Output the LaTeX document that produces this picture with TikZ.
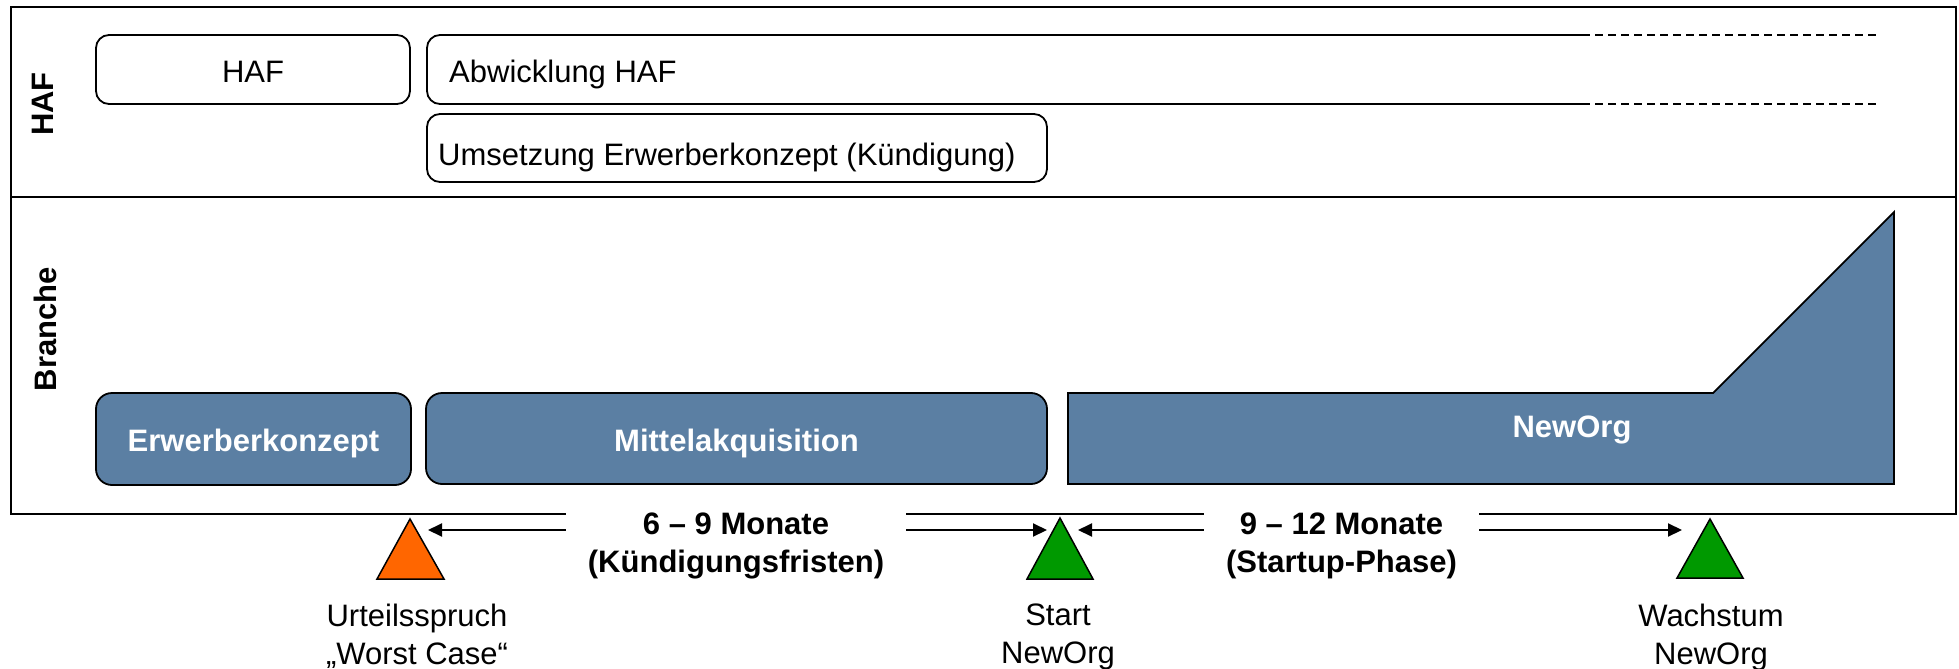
\documentclass[tikz,border=0pt]{standalone}
\usepackage{fontspec}
\setmainfont{Liberation Sans}
\usetikzlibrary{arrows.meta}
\definecolor{bluebox}{RGB}{91,127,163}
\definecolor{orangetri}{RGB}{255,102,0}
\definecolor{greentri}{RGB}{0,153,0}
\begin{document}
\begin{tikzpicture}[x=1pt,y=-1pt,
  txt/.style={font=\fontsize{31}{38}\selectfont, inner sep=0pt},
  btxt/.style={font=\fontsize{31}{38}\selectfont\bfseries, inner sep=0pt},
  wbox/.style={draw=black, line width=1.8pt, rounded corners=13pt},
  bbox/.style={draw=black, fill=bluebox, line width=1.8pt, rounded corners=16pt},
  bshape/.style={draw=black, fill=bluebox, line width=1.8pt},
  frame/.style={draw=black, line width=2pt},
  tri/.style={draw=black, line width=1.5pt},
  arr/.style={line width=2pt, -{Triangle[length=14pt,width=13pt]}},
  lbl/.style={btxt, fill=white, align=center, inner xsep=22pt, inner ysep=2pt, anchor=north},
  dashline/.style={line width=1.8pt, dash pattern=on 8pt off 5pt}
]
\useasboundingbox (0,0) rectangle (1959,669);

% frame
\draw[frame] (11,7) rectangle (1956,514);
\draw[frame] (11,197) -- (1956,197);

% lane labels
\node[btxt, rotate=90] (lhaf) at (43,104) {HAF};
\node[btxt, rotate=90] (lbr) at (45,329) {Branche};

% HAF lane
\node[wbox, minimum width=314pt, minimum height=69pt] (haf) at (253,69.5) {};
\node[txt, anchor=base] (haft) at (haf.center |- 0,82) {HAF};

\draw[wbox] (1582,35) -- (427,35) -- (427,104) -- (1582,104);
\draw[dashline] (1582,35) -- (1880,35);
\draw[dashline] (1582,104) -- (1880,104);
\node[txt, anchor=base west] (abw) at (449,82) {Abwicklung HAF};

\node[wbox, minimum width=620pt, minimum height=68pt] (ums) at (737,148) {};
\node[txt, anchor=base west] (umst) at (438,165) {Umsetzung Erwerberkonzept (Kündigung)};

% Branche lane
\node[bbox, minimum width=315pt, minimum height=92pt] (erw) at (253.5,439) {};
\node[btxt, white, anchor=base] (erwt) at (erw.center |- 0,451) {Erwerberkonzept};

\node[bbox, minimum width=621pt, minimum height=91pt] (mit) at (736.5,438.5) {};
\node[btxt, white, anchor=base] (mitt) at (mit.center |- 0,451) {Mittelakquisition};

\draw[bshape] (1068,393) -- (1713,393) -- (1894,212) -- (1894,484) -- (1068,484) -- cycle;
\node[btxt, white, anchor=base] (neworg) at (1572,437) {NewOrg};

% milestones
\draw[tri, fill=orangetri] (410,519) -- (444,579) -- (377,579) -- cycle;
\draw[tri, fill=greentri] (1060,518) -- (1093,579) -- (1027,579) -- cycle;
\draw[tri, fill=greentri] (1710,519) -- (1743,578) -- (1677,578) -- cycle;

\coordinate (p1) at (428,530);
\coordinate (p2) at (1047,530);
\coordinate (p3) at (1078,530);
\coordinate (p4) at (1682,530);

\node[lbl] (d1) at (736,510.5) {6 – 9 Monate\\(Kündigungsfristen)};
\node[lbl] (d2) at (1341.5,510.5) {9 – 12 Monate\\(Startup-Phase)};

\draw[arr] (d1.west |- p1) -- (p1);
\draw[arr] (d1.east |- p2) -- (p2);
\draw[arr] (d2.west |- p3) -- (p3);
\draw[arr] (d2.east |- p4) -- (p4);

\node[txt, align=center, anchor=north] (m1) at (417,603.5) {Urteilsspruch\\„Worst Case“};
\node[txt, align=center, anchor=north] (m2) at (1058,603.5) {Start\\NewOrg};
\node[txt, align=center, anchor=north] (m3) at (1711,603.5) {Wachstum\\NewOrg};
\end{tikzpicture}
\end{document}
